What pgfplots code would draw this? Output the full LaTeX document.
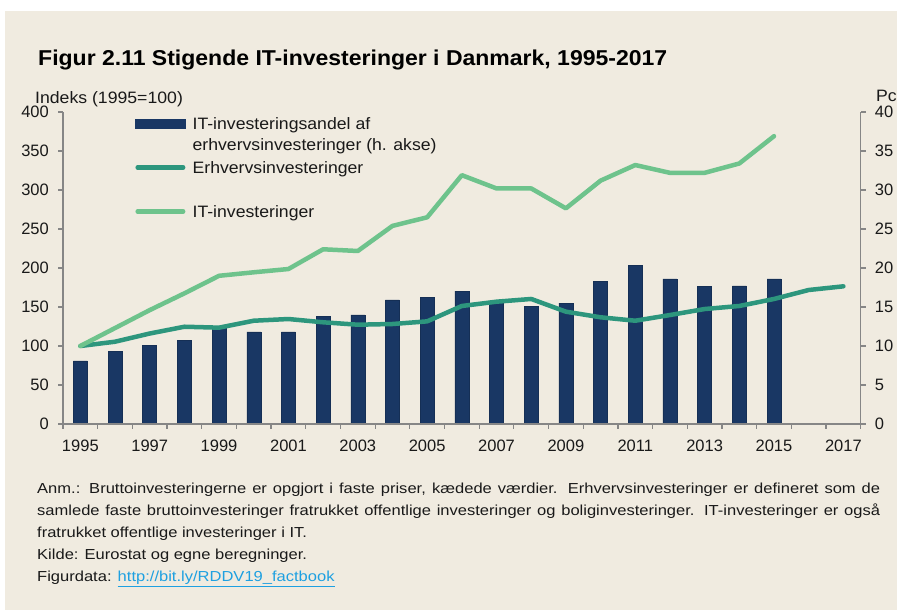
\documentclass[border=0pt]{standalone}
\usepackage{fontspec}
\setmainfont{Liberation Sans}
\newfontfamily\legfont{Liberation Sans}[FakeStretch=1.07]
\newfontfamily\titfont{Liberation Sans}[FakeStretch=1.07]
\newfontfamily\notefont{Liberation Sans}[FakeStretch=1.14]
\usepackage{pgfplots}
\pgfplotsset{compat=1.18}
\definecolor{bg}{RGB}{240,235,224}
\definecolor{navy}{RGB}{25,55,100}
\definecolor{erhv}{RGB}{45,150,125}
\definecolor{itg}{RGB}{110,195,140}
\definecolor{axgray}{RGB}{134,134,134}
\definecolor{linkblue}{RGB}{30,160,225}
\definecolor{txt}{RGB}{25,25,25}
\begin{document}
\begin{tikzpicture}
\fill[white] (-63bp,-186bp) rectangle (834bp,424bp);
\fill[bg] (-58bp,-186bp) rectangle (834bp,413bp);
% bars axis (right)
\begin{axis}[
  at={(0,0)}, anchor=south west, scale only axis,
  width=797.7bp, height=312bp,
  xmin=1994.5, xmax=2017.5, ymin=0, ymax=40,
  axis x line=none, axis y line*=right,
  axis line style={-, draw=axgray, line width=1.2bp},
  ytick={0,5,...,40}, tick align=outside, major tick length=5bp,
  ytick style={draw=axgray, line width=1.2bp},
  /pgf/number format/assume math mode=true,
  yticklabel style={font=\fontsize{16.5bp}{18bp}\selectfont, text=txt, inner sep=0pt, anchor=west, xshift=9bp},
]
\addplot[ybar, bar width=14bp, fill=navy, draw=navy!85!black, line width=0.5bp] coordinates {
(1995,8.1) (1996,9.3) (1997,10.1) (1998,10.7) (1999,12.4) (2000,11.8) (2001,11.8)
(2002,13.8) (2003,14.0) (2004,15.9) (2005,16.2) (2006,17.05) (2007,15.6) (2008,15.1)
(2009,15.5) (2010,18.3) (2011,20.3) (2012,18.6) (2013,17.6) (2014,17.7) (2015,18.6)
};
\end{axis}
% lines axis (left)
\begin{axis}[
  at={(0,0)}, anchor=south west, scale only axis,
  width=797.7bp, height=312bp,
  xmin=1994.5, xmax=2017.5, ymin=0, ymax=400,
  axis x line*=bottom, axis y line*=left,
  axis line style={-, draw=axgray, line width=1.2bp},
  ytick={0,50,...,400}, tick align=outside, major tick length=5bp, minor tick length=5bp,
  xtick={1995,1997,...,2017},
  minor xtick={1994.5,1995.5,...,2017.5},
  major x tick style={draw=none},
  minor x tick style={draw=axgray, line width=1.2bp},
  ytick style={draw=axgray, line width=1.2bp},
  /pgf/number format/assume math mode=true,
  /pgf/number format/set thousands separator={},
  yticklabel style={font=\fontsize{16.5bp}{18bp}\selectfont, text=txt, inner sep=0pt, anchor=east, xshift=-9bp},
  xticklabel style={font=\fontsize{16.5bp}{18bp}\selectfont, text=txt, inner sep=0pt, anchor=base, yshift=-22.7bp},
  legend image code/.code={\draw[#1, line cap=round] (2.25bp,11bp) -- (47.75bp,11bp);},
  legend cell align=left,
  legend style={at={(0.0903,1.0002)}, anchor=north west, draw=none, fill=none,
    inner sep=0pt, row sep=0pt, column sep=7bp, nodes={inner sep=0pt, text depth=},
    font=\legfont\fontsize{16.5bp}{21bp}\selectfont, text=txt},
]
\addlegendimage{legend image code/.code={\fill[navy] (0bp,6.5bp) rectangle (50bp,15.5bp);}}
\addlegendentry{\rule[-27bp]{0pt}{44bp}\begin{tabular}[t]{@{}l@{}}IT-investeringsandel af\\erhvervsinvesteringer (h. akse)\end{tabular}}
\addplot[erhv, line width=4.5bp, line join=round, line cap=round] coordinates {
(1995,100) (1996,105.5) (1997,116) (1998,124.7) (1999,123.5) (2000,132.4) (2001,134.6)
(2002,130.4) (2003,127.3) (2004,128.2) (2005,131.6) (2006,151.3) (2007,156.8) (2008,160.3)
(2009,144) (2010,136.8) (2011,132.4) (2012,139.7) (2013,147.4) (2014,151.3) (2015,160.3)
(2016,171.8) (2017,176.5)
};
\addlegendentry{\rule[-27bp]{0pt}{44bp}Erhvervsinvesteringer}
\addplot[itg, line width=4.5bp, line join=round, line cap=round] coordinates {
(1995,100) (1996,123) (1997,146) (1998,167.5) (1999,190) (2000,194.5) (2001,198.7)
(2002,224) (2003,221.8) (2004,254) (2005,265) (2006,319) (2007,302) (2008,302)
(2009,276.5) (2010,312) (2011,332) (2012,322) (2013,322) (2014,334) (2015,369)
};
\addlegendentry{\rule[-27bp]{0pt}{44bp}IT-investeringer}
\end{axis}
\node[anchor=base west, inner sep=0pt, font=\titfont\bfseries\fontsize{21.5bp}{24bp}\selectfont, text=black] at (-25bp,358bp) {Figur 2.11 Stigende IT-investeringer i Danmark, 1995-2017};
\node[anchor=base west, inner sep=0pt, font=\legfont\fontsize{16.5bp}{18bp}\selectfont, text=txt] at (-28bp,320.7bp) {Indeks (1995=100)};
\node[anchor=base west, inner sep=0pt, font=\legfont\fontsize{16.5bp}{18bp}\selectfont, text=txt] at (813bp,322bp) {Pct};
\node[anchor=base west, inner sep=0pt, text=txt] at (-26bp,-69bp) {\parbox[t]{843bp}{\notefont\fontsize{14.5bp}{22.2bp}\selectfont\hyphenpenalty=10000\exhyphenpenalty=10000
Anm.: Bruttoinvesteringerne er opgjort i faste priser, kædede værdier. Erhvervsinvesteringer er defineret som de\linebreak
samlede faste bruttoinvesteringer fratrukket offentlige investeringer og boliginvesteringer. IT-investeringer er også\linebreak
fratrukket offentlige investeringer i IT.\\
Kilde: Eurostat og egne beregninger.\\
Figurdata: \textcolor{linkblue}{\underline{http://bit.ly/RDDV19\_factbook}}}};
\pgfresetboundingbox
\useasboundingbox (-63bp,-186bp) rectangle (834bp,424bp);
\end{tikzpicture}
\end{document}
